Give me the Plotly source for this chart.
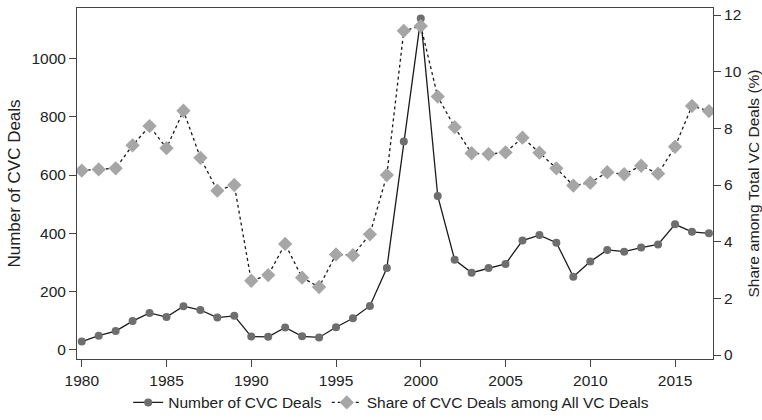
import plotly.graph_objects as go

years = list(range(1980, 2018))
cvc_deals = [29, 49, 65, 99, 127, 113, 150, 137, 111, 117,
             46, 45, 77, 47, 43, 78, 109, 151, 281, 715,
             1137, 528, 309, 265, 281, 295, 375, 394, 368, 251,
             303, 343, 337, 351, 362, 431, 405, 400]
cvc_share = [6.51, 6.55, 6.59, 7.40, 8.08, 7.30, 8.62, 6.96, 5.80, 6.00,
             2.62, 2.82, 3.92, 2.73, 2.40, 3.55, 3.52, 4.26, 6.35, 11.44,
             11.61, 9.12, 8.04, 7.12, 7.09, 7.15, 7.67, 7.14, 6.59, 5.98,
             6.08, 6.45, 6.38, 6.68, 6.40, 7.35, 8.79, 8.61]
x_ticks = [1980, 1985, 1990, 1995, 2000, 2005, 2010, 2015]
left_ticks = [0, 200, 400, 600, 800, 1000]
right_ticks = [0, 2, 4, 6, 8, 10, 12]

FONT = "Liberation Sans, Arial, Helvetica, sans-serif"
AXC = "#444444"
TXT = "#222222"

fig = go.Figure()
fig.add_trace(go.Scatter(
    x=years, y=cvc_deals, name="Number of CVC Deals", mode="lines+markers",
    line=dict(color="#1a1a1a", width=1.3),
    marker=dict(symbol="circle", size=8, color="#6e6e6e"),
    yaxis="y"))
fig.add_trace(go.Scatter(
    x=years, y=cvc_share, name="Share of CVC Deals among All VC Deals", mode="lines+markers",
    line=dict(color="#1a1a1a", width=1.3, dash="3px,3px"),
    marker=dict(symbol="diamond", size=11, color="#a6a6a6"),
    yaxis="y2"))

fig.update_layout(
    width=762, height=420,
    margin=dict(l=77, r=49, t=8, b=61, autoexpand=False),
    paper_bgcolor="white", plot_bgcolor="white",
    font=dict(family=FONT, size=15, color=TXT),
    showlegend=True,
    legend=dict(orientation="h", x=0.494, xanchor="center", y=-0.125, yanchor="middle",
                font=dict(size=15.5, color=TXT), tracegroupgap=0),
    xaxis=dict(range=[1979.72, 2017.24], tickvals=x_ticks, ticks="outside", ticklen=7,
               tickcolor=AXC, showline=True, linecolor=AXC, linewidth=1, mirror=True,
               showgrid=False, zeroline=False, tickfont=dict(size=15.5),
               ticklabeloverflow="allow"),
    yaxis=dict(range=[-30.9, 1172.6], tickvals=left_ticks, ticks="outside", ticklen=7,
               tickcolor=AXC, showline=True, linecolor=AXC, linewidth=1,
               showgrid=False, zeroline=False, tickfont=dict(size=15.5),
               ticklabeloverflow="allow",
               title=dict(text="Number of CVC Deals", font=dict(size=17), standoff=6)),
    yaxis2=dict(range=[-0.141, 12.247], tickvals=right_ticks, ticks="outside", ticklen=7,
                tickcolor=AXC, showline=True, linecolor=AXC, linewidth=1,
                overlaying="y", side="right",
                showgrid=False, zeroline=False, tickfont=dict(size=15.5),
                ticklabeloverflow="allow",
                title=dict(text="Share among Total VC Deals (%)", font=dict(size=15.5), standoff=7)),
)

fig.write_html(
    "out.html",
    config={"displayModeBar": False},
    post_script="document.body.style.margin='0';document.body.style.overflow='hidden';",
)
